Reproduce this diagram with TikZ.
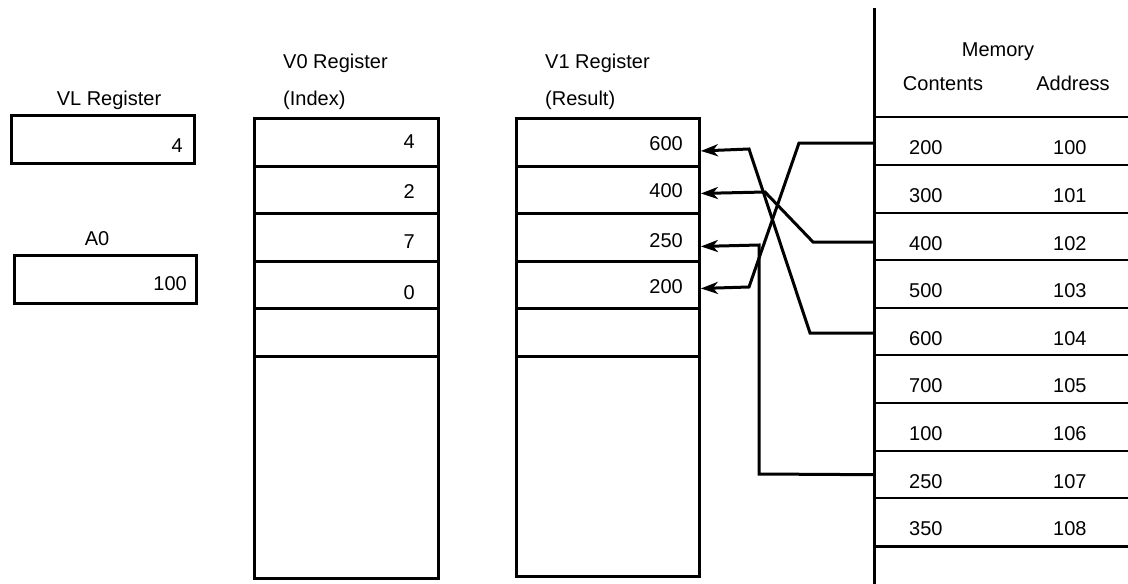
\documentclass[tikz,border=0pt]{standalone}
\usepackage{fontspec}
\setmainfont{Liberation Sans}
\usetikzlibrary{arrows.meta}
\begin{document}
\begin{tikzpicture}[x=1pt,y=-1pt,
  lbl/.style={inner sep=0pt, font=\fontsize{20}{24}\selectfont},
  cell/.style={draw, line width=2.9pt, rectangle, inner sep=0pt, anchor=north west},
  memcell/.style={rectangle, inner sep=0pt, anchor=north west, minimum width=254pt},
  rowline/.style={line width=2.6pt},
  conn/.style={line width=3pt, line join=miter},
  tip/.style={-{Stealth[length=17pt,width=12pt,inset=5pt]}}
]
\fill[white] (0,0) rectangle (1128,584);
\useasboundingbox (0,0) rectangle (1128,584);

% VL and A0 registers
\node[cell, minimum width=183pt, minimum height=48pt] (vl) at (10,114) {};
\node[cell, minimum width=182pt, minimum height=48pt] (a0) at (13,254) {};
\node[lbl, anchor=base] (vllbl) at (109,105) {VL Register};
\node[lbl, anchor=base east] (vlval) at (183,152) {4};
\node[lbl, anchor=base] (a0lbl) at (97,245) {A0};
\node[lbl, anchor=base east] (a0val) at (187,290) {100};

% V0 register
\foreach \i/\t/\h in {a/117/48, b/165/47, c/212/48, d/260/47, e/307/48, f/355/222}
  \node[cell, minimum width=184pt, minimum height=\h pt] (v0\i) at (253,\t) {};
\node[lbl, anchor=base west] (v0lbl) at (283,68) {V0 Register};
\node[lbl, anchor=base west] (v0sub) at (283,105) {(Index)};
\node[lbl, anchor=base east] (v0va) at (415,148) {4};
\node[lbl, anchor=base east] (v0vb) at (415,198) {2};
\node[lbl, anchor=base east] (v0vc) at (415,248) {7};
\node[lbl, anchor=base east] (v0vd) at (415,299) {0};

% V1 register
\foreach \i/\t/\h in {a/117/48, b/165/47, c/212/48, d/260/47, e/307/48, f/355/220}
  \node[cell, minimum width=183pt, minimum height=\h pt] (v1\i) at (515,\t) {};
\node[lbl, anchor=base west] (v1lbl) at (545,68) {V1 Register};
\node[lbl, anchor=base west] (v1sub) at (545,105) {(Result)};
\node[lbl, anchor=base east] (v1va) at (683,150) {600};
\node[lbl, anchor=base east] (v1vb) at (683,197) {400};
\node[lbl, anchor=base east] (v1vc) at (683,247) {250};
\node[lbl, anchor=base east] (v1vd) at (683,293) {200};

% Memory
\draw[line width=3pt] (874,8) -- (874,584);
\node[lbl, anchor=base] (memlbl) at (998,56) {Memory};
\node[lbl, anchor=base] (contlbl) at (943,90) {Contents};
\node[lbl, anchor=base] (addrlbl) at (1073,90) {Address};
\foreach \n/\t/\h/\c/\a in {1/117/48/200/100, 2/165/48/300/101, 3/213/47/400/102,
    4/260/48/500/103, 5/308/47/600/104, 6/355/48/700/105, 7/403/48/100/106,
    8/451/47/250/107, 9/498/48/350/108} {
  \node[memcell, minimum height=\h pt] (m\n) at (874,\t) {};
  \draw[rowline] (m\n.north west) -- (m\n.north east);
  \node[lbl, anchor=base west] (mc\n) at (909,\t+37) {\c};
  \node[lbl, anchor=base west] (ma\n) at (1053,\t+37) {\a};
}
\draw[rowline] (m9.south west) -- (m9.south east);

% Gather connectors
\draw[conn, tip] ([yshift=-2pt]m1.west) -- (799,143) -- (749,287) -- ([yshift=-3.5pt]v1d.east);
\draw[conn, tip] ([yshift=-5.5pt]m3.west) -- (813,242) -- (765,192) -- ([yshift=-3.5pt]v1b.east);
\draw[conn, tip] ([yshift=-1.5pt]m5.west) -- (810,333) -- (749,149) -- ([yshift=-8.5pt]v1a.east);
\draw[conn, tip] (m8.west) -- (759,474) -- (759,245) -- ([yshift=-9pt]v1c.east);
\end{tikzpicture}
\end{document}
